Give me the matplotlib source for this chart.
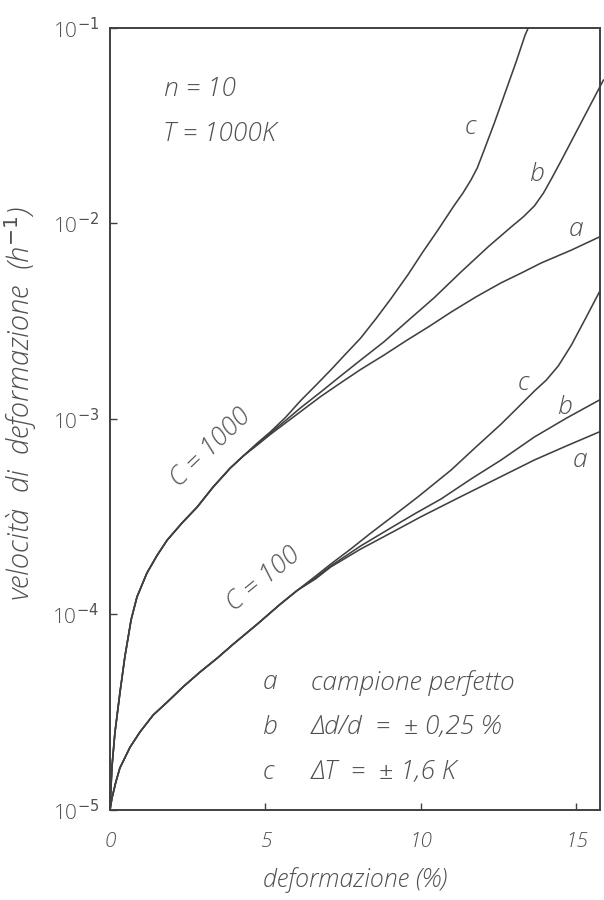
import matplotlib
matplotlib.use("Agg")
import matplotlib.pyplot as plt
from matplotlib.ticker import NullLocator

# ---- data ----
# C = 1000 : shared initial branch
c1000_common_x = [0.0, 0.065, 0.16, 0.32, 0.48, 0.68, 0.87, 1.19, 1.52, 1.84, 2.32, 2.81, 3.32, 3.87, 4.29]
c1000_common_y = [1.0e-5, 1.66e-5, 2.48e-5, 3.96e-5, 6.07e-5, 9.38e-5, 1.23e-4, 1.63e-4, 2.01e-4,
                  2.40e-4, 2.94e-4, 3.55e-4, 4.49e-4, 5.61e-4, 6.47e-4]
# C = 1000 branches
c1000_c_x = [4.74, 5.16, 5.65, 6.13, 6.61, 7.10, 7.58, 8.06, 8.55, 9.03, 9.58, 10.06, 10.55, 11.06,
             11.35, 11.61, 11.81, 12.00, 12.35, 12.74, 13.06, 13.35, 13.45]
c1000_c_y = [7.53e-4, 8.59e-4, 1.02e-3, 1.24e-3, 1.48e-3, 1.78e-3, 2.15e-3, 2.59e-3, 3.25e-3, 4.11e-3,
             5.46e-3, 7.14e-3, 9.27e-3, 1.23e-2, 1.43e-2, 1.67e-2, 1.92e-2, 2.30e-2, 3.23e-2, 4.82e-2,
             6.70e-2, 9.20e-2, 1.0e-1]
c1000_b_x = [4.74, 5.16, 5.65, 6.13, 6.77, 7.42, 8.06, 8.81, 9.61, 10.42, 11.29, 12.16, 12.90, 13.29,
             13.65, 13.94, 14.23, 14.52, 15.16, 15.87]
c1000_b_y = [7.45e-4, 8.47e-4, 9.82e-4, 1.14e-3, 1.37e-3, 1.66e-3, 2.00e-3, 2.48e-3, 3.21e-3, 4.16e-3,
             5.65e-3, 7.59e-3, 9.59e-3, 1.08e-2, 1.23e-2, 1.43e-2, 1.73e-2, 2.11e-2, 3.30e-2, 5.42e-2]
c1000_a_x = [4.74, 5.16, 5.65, 6.13, 6.77, 7.42, 8.06, 8.81, 9.52, 10.26, 10.97, 11.77, 12.58, 13.23,
             13.87, 14.84, 15.74]
c1000_a_y = [7.36e-4, 8.34e-4, 9.55e-4, 1.09e-3, 1.30e-3, 1.53e-3, 1.79e-3, 2.12e-3, 2.51e-3, 2.97e-3,
             3.52e-3, 4.21e-3, 4.97e-3, 5.58e-3, 6.28e-3, 7.31e-3, 8.53e-3]

# C = 100 : shared initial branch
c100_common_x = [0.0, 0.065, 0.19, 0.32, 0.65, 0.97, 1.39, 1.84, 2.35, 2.90, 3.45, 3.97, 4.74, 5.48, 6.03]
c100_common_y = [1.0e-5, 1.15e-5, 1.39e-5, 1.64e-5, 2.10e-5, 2.51e-5, 3.06e-5, 3.56e-5, 4.26e-5,
                 5.08e-5, 5.98e-5, 7.06e-5, 8.93e-5, 1.13e-4, 1.33e-4]
# C = 100 branches
c100_c_x = [6.61, 7.10, 7.74, 8.39, 9.03, 9.90, 10.97, 11.77, 12.58, 13.13, 13.65, 14.03, 14.42,
            14.84, 15.32, 15.74]
c100_c_y = [1.57e-4, 1.81e-4, 2.16e-4, 2.61e-4, 3.12e-4, 3.99e-4, 5.48e-4, 7.19e-4, 9.42e-4, 1.15e-3,
            1.39e-3, 1.58e-3, 1.87e-3, 2.39e-3, 3.33e-3, 4.47e-3]
c100_b_x = [6.61, 7.10, 8.06, 9.03, 9.84, 10.65, 11.61, 12.58, 13.65, 14.68, 15.74]
c100_b_y = [1.54e-4, 1.77e-4, 2.24e-4, 2.77e-4, 3.30e-4, 3.90e-4, 4.93e-4, 6.17e-4, 8.09e-4, 1.01e-3, 1.25e-3]
c100_a_x = [6.61, 7.10, 8.06, 9.03, 10.00, 11.19, 12.42, 13.65, 14.68, 15.74]
c100_a_y = [1.52e-4, 1.75e-4, 2.16e-4, 2.61e-4, 3.16e-4, 3.94e-4, 4.93e-4, 6.17e-4, 7.28e-4, 8.59e-4]

x_ticks = [0, 5, 10, 15]
x_ticklabels = ["0", "5", "10", "15"]
y_ticks = [1e-5, 1e-4, 1e-3, 1e-2, 1e-1]
y_ticklabels = ["10$^{-5}$", "10$^{-4}$", "10$^{-3}$", "10$^{-2}$", "10$^{-1}$"]

legend_keys = ["a", "b", "c"]
legend_texts = ["campione perfetto", "Δd/d  =  ± 0,25 %", "ΔT  =  ± 1,6 K"]

# ---- drawing ----
INK = "#404040"
TXT = "#505050"
plt.rcParams["font.family"] = ["Open Sans", "DejaVu Sans"]
plt.rcParams["mathtext.fontset"] = "dejavusans"

fig = plt.figure(figsize=(6.04, 9.0), dpi=100)
ax = fig.add_axes([0.182, 0.100, 0.811, 0.869])
ax.set_yscale("log")
ax.set_xlim(0, 15.75)
ax.set_ylim(1e-5, 1e-1)

lw = 1.15
for cx, cy, branches in [
    (c1000_common_x, c1000_common_y,
     [(c1000_c_x, c1000_c_y), (c1000_b_x, c1000_b_y), (c1000_a_x, c1000_a_y)]),
    (c100_common_x, c100_common_y,
     [(c100_c_x, c100_c_y), (c100_b_x, c100_b_y), (c100_a_x, c100_a_y)]),
]:
    for bx, by in branches:
        ax.plot(list(cx) + list(bx), list(cy) + list(by), color=INK, lw=lw,
                solid_joinstyle="round", solid_capstyle="round", clip_on=False)

for s in ax.spines.values():
    s.set_color(INK)
    s.set_linewidth(1.4)

ax.set_xticks(x_ticks)
ax.set_xticklabels(x_ticklabels, fontsize=15, color=TXT, style="italic", fontweight="light")
ax.set_yticks(y_ticks)
ax.set_yticklabels(y_ticklabels, fontsize=15, color=TXT, fontweight="light")
ax.yaxis.set_minor_locator(NullLocator())
ax.tick_params(direction="in", length=5, width=1, color=INK)
ax.tick_params(axis="y", pad=8)
ax.tick_params(axis="x", pad=16)

ax.set_xlabel("deformazione (%)", fontsize=18, color=TXT, style="italic",
              fontweight="light", labelpad=11)
ax.set_ylabel("velocità  di  deformazione  (h$^{-1}$)", fontsize=21, color=TXT,
              style="italic", fontweight="light", labelpad=10)
ax.yaxis.set_label_coords(-0.145, 0.52)

tk = dict(color=TXT, style="italic", fontsize=19, fontweight="light", va="center")
ax.text(1.75, 10**-1.317, "n = 10", **tk)
ax.text(1.70, 10**-1.547, "T = 1000K", **tk)

lbl = dict(ha="center", va="center", fontsize=19, color=TXT, style="italic",
           fontweight="light", rotation_mode="anchor")
ax.text(3.25, 10**-3.15, "C = 1000", rotation=44, **lbl)
ax.text(4.95, 10**-3.82, "C = 100", rotation=39, **lbl)

lab = dict(color=TXT, style="italic", fontsize=19, fontweight="light", ha="center", va="center")
ax.text(11.6, 10**-1.51, "c", **lab)
ax.text(13.7, 10**-1.75, "b", **lab)
ax.text(15.0, 10**-2.03, "a", **lab)
ax.text(13.3, 10**-2.82, "c", **lab)
ax.text(14.6, 10**-2.94, "b", **lab)
ax.text(15.1, 10**-3.21, "a", **lab)

leg_y = [10**-4.35, 10**-4.58, 10**-4.81]
for k, t, yy in zip(legend_keys, legend_texts, leg_y):
    ax.text(4.9, yy, k, color=TXT, fontsize=19, style="italic", fontweight="light", va="center")
    ax.text(6.45, yy, t, color=TXT, fontsize=19, style="italic", fontweight="light", va="center")

fig.savefig("out.png", dpi=100, facecolor="white")
